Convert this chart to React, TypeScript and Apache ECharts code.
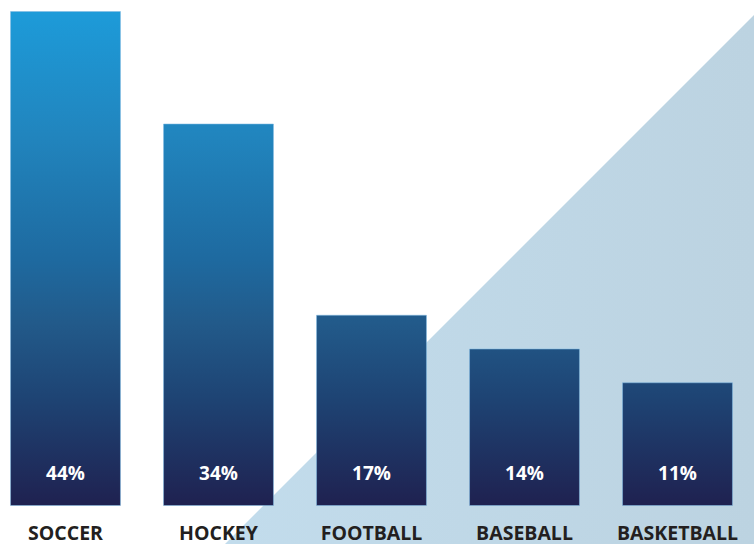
import React, { useEffect, useRef } from "react";
import * as echarts from "echarts";

const categories = ["SOCCER", "HOCKEY", "FOOTBALL", "BASEBALL", "BASKETBALL"];
const values = [44, 34, 17, 14, 11];

export default function App() {
  const ref = useRef<HTMLDivElement>(null);
  useEffect(() => {
    const chart = echarts.init(ref.current!, null, { renderer: "svg" });
    const barGradient = new echarts.graphic.LinearGradient(
      0, 11, 0, 506,
      [
        { offset: 0, color: "#1d9bd9" },
        { offset: 0.25, color: "#2185be" },
        { offset: 0.5, color: "#1e6aa0" },
        { offset: 0.63, color: "#225a8a" },
        { offset: 0.78, color: "#1e4474" },
        { offset: 1, color: "#1f2150" },
      ],
      true
    );
    chart.setOption({
      animation: false,
      backgroundColor: "#ffffff",
      graphic: [
        {
          type: "polygon",
          z: -10,
          silent: true,
          shape: { points: [[236, 544], [765, 15], [765, 544]] },
          style: {
            fill: new echarts.graphic.LinearGradient(0, 0, 1, 0, [
              { offset: 0, color: "#c2dcec" },
              { offset: 1, color: "#bcd3e1" },
            ]),
          },
        },
      ],
      grid: { left: 0, right: 0, top: 11, bottom: 38, containLabel: false },
      xAxis: {
        type: "category",
        data: categories,
        axisLine: { show: false },
        axisTick: { show: false },
        axisLabel: {
          interval: 0,
          margin: 16,
          color: "#231f20",
          fontFamily: "Open Sans",
          fontWeight: "bold",
          fontSize: 19.5,
          lineHeight: 20,
        },
      },
      yAxis: {
        type: "value",
        min: 0,
        max: 44,
        show: false,
        splitLine: { show: false },
      },
      series: [
        {
          type: "bar",
          data: values,
          barCategoryGap: "27.5%",
          itemStyle: {
            color: barGradient,
            borderColor: "rgba(130,185,225,0.55)",
            borderWidth: 1,
          },
          label: {
            show: true,
            position: "insideBottom",
            distance: 24,
            formatter: "{c}%",
            color: "#ffffff",
            fontFamily: "Open Sans",
            fontWeight: "bold",
            fontSize: 19,
          },
        },
      ],
    });
    return () => chart.dispose();
  }, []);
  return (
    <div
      ref={ref}
      style={{ position: "fixed", left: -11, top: 0, width: 765, height: 544 }}
    />
  );
}
